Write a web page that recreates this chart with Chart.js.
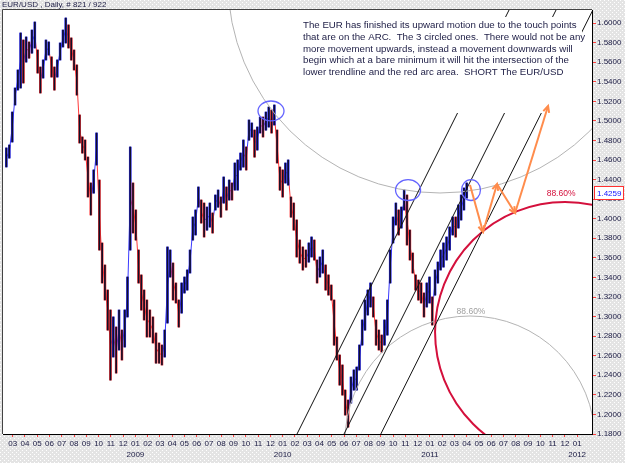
<!DOCTYPE html>
<html>
<head>
<meta charset="utf-8">
<script src="https://cdn.jsdelivr.net/npm/chart.js@4.4.0/dist/chart.umd.min.js"></script>
<style>
  html, body { margin: 0; padding: 0; background: #e8e8e8; }
  canvas { display: block; }
</style>
</head>
<body>
<canvas id="eurChart" width="625" height="463"></canvas>
<script>
// weekly EUR/USD ranges, first week starting 2008-02-15
const firstWeek = "2008-02-15";
const weekHigh = [
  1.4723, 1.4753, 1.5090, 1.5336, 1.5520, 1.5898, 1.5826, 1.5857, 1.5806, 1.5928,
  1.6010, 1.5724, 1.5550, 1.5622, 1.5826, 1.5806, 1.5653, 1.5550, 1.5622, 1.5796,
  1.5928, 1.6051, 1.5980, 1.5847, 1.5724, 1.5571, 1.5060, 1.4835, 1.4804, 1.4630,
  1.4365, 1.4498, 1.4876, 1.4395, 1.3752, 1.3527, 1.3271, 1.3067, 1.2996, 1.2893,
  1.3067, 1.2862, 1.3067, 1.3404, 1.4733, 1.4365, 1.4089, 1.3680, 1.3425, 1.3271,
  1.3169, 1.3067, 1.2996, 1.2832, 1.2730, 1.2709, 1.2862, 1.3711, 1.3680, 1.3547,
  1.3343, 1.3169, 1.3343, 1.3404, 1.3476, 1.3680, 1.4017, 1.4089, 1.4324, 1.4191,
  1.4160, 1.4119, 1.4160, 1.4058, 1.4242, 1.4293, 1.4222, 1.4426, 1.4324, 1.4395,
  1.4365, 1.4569, 1.4600, 1.4671, 1.4804, 1.4733, 1.5009, 1.4978, 1.4906, 1.4937,
  1.5039, 1.5039, 1.5090, 1.5141, 1.5111, 1.5162, 1.4906, 1.4528, 1.4498, 1.4569,
  1.4600, 1.4222, 1.4160, 1.3987, 1.3782, 1.3711, 1.3680, 1.3752, 1.3813, 1.3782,
  1.3578, 1.3609, 1.3680, 1.3527, 1.3425, 1.3322, 1.3169, 1.2791, 1.2607, 1.2505,
  1.2249, 1.2147, 1.2382, 1.2454, 1.2484, 1.2709, 1.2965, 1.3169, 1.3271, 1.3343,
  1.3200, 1.2965, 1.2862, 1.2811, 1.2965, 1.3169, 1.3680, 1.4017, 1.4160, 1.4089,
  1.4119, 1.4293, 1.4242, 1.3884, 1.3649, 1.3425, 1.3373, 1.3343, 1.3241, 1.3343,
  1.3404, 1.3200, 1.3476, 1.3557, 1.3680, 1.3752, 1.3813, 1.3915, 1.4017, 1.4017,
  1.4140, 1.4242, 1.4314, 1.4365
];
const weekLow = [
  1.4529, 1.4620, 1.4784, 1.5162, 1.5315, 1.5336, 1.5387, 1.5601, 1.5642, 1.5693,
  1.5745, 1.5489, 1.5285, 1.5438, 1.5622, 1.5673, 1.5448, 1.5315, 1.5448, 1.5622,
  1.5755, 1.5796, 1.5745, 1.5622, 1.5520, 1.5264, 1.4774, 1.4671, 1.4600, 1.4222,
  1.4038, 1.4262, 1.4549, 1.3680, 1.3343, 1.3169, 1.2862, 1.2351, 1.2587, 1.2423,
  1.2658, 1.2556, 1.2689, 1.2996, 1.3680, 1.3854, 1.3782, 1.3343, 1.3067, 1.2965,
  1.2791, 1.2791, 1.2730, 1.2525, 1.2525, 1.2505, 1.2587, 1.2934, 1.3404, 1.3169,
  1.3139, 1.2893, 1.3036, 1.3241, 1.3271, 1.3445, 1.3782, 1.3834, 1.4119, 1.3956,
  1.3813, 1.3884, 1.3915, 1.3854, 1.4089, 1.4119, 1.4017, 1.4160, 1.4089, 1.4191,
  1.4191, 1.4293, 1.4293, 1.4498, 1.4528, 1.4498, 1.4804, 1.4835, 1.4630, 1.4702,
  1.4876, 1.4835, 1.4906, 1.4937, 1.4876, 1.4958, 1.4569, 1.4293, 1.4222, 1.4365,
  1.4344, 1.4017, 1.3884, 1.3609, 1.3547, 1.3476, 1.3506, 1.3557, 1.3609, 1.3578,
  1.3343, 1.3404, 1.3445, 1.3271, 1.3220, 1.3169, 1.2709, 1.2556, 1.2300, 1.2198,
  1.1994, 1.1871, 1.2116, 1.2249, 1.2249, 1.2454, 1.2709, 1.2862, 1.3016, 1.3098,
  1.2996, 1.2709, 1.2658, 1.2638, 1.2709, 1.2811, 1.3343, 1.3752, 1.3936, 1.3834,
  1.3905, 1.4089, 1.3731, 1.3578, 1.3445, 1.3271, 1.3169, 1.3139, 1.2996, 1.3098,
  1.3139, 1.2914, 1.3220, 1.3343, 1.3476, 1.3506, 1.3578, 1.3680, 1.3834, 1.3813,
  1.3905, 1.3987, 1.4089, 1.4211
];
const lastPrice = 1.4259;

const priceTicks = [1.18, 1.20, 1.22, 1.24, 1.26, 1.28, 1.30, 1.32, 1.34, 1.36, 1.38,
  1.40, 1.42, 1.44, 1.46, 1.48, 1.50, 1.52, 1.54, 1.56, 1.58, 1.60];
// month ticks from 2008-03 to 2012-01
const monthTicks = ["03","04","05","06","07","08","09","10","11","12",
  "01","02","03","04","05","06","07","08","09","10","11","12",
  "01","02","03","04","05","06","07","08","09","10","11","12",
  "01","02","03","04","05","06","07","08","09","10","11","12",
  "01"];
const yearTicks = ["2009", "2010", "2011", "2012"];

// drawings, in (months since 2008-01, price)
const fibArcs = [
  { m: 36.82, p: 1.6429, rm: 17.28, rp: 0.2166, color: "#b4b4b4", width: 1 },
  { m: 39.27, p: 1.1728, rm: 10.19, rp: 0.1278, color: "#b4b4b4", width: 1 },
  { m: 47.01, p: 1.2842, rm: 10.59, rp: 0.1329, color: "#d4103c", width: 2 }
];
const arcLabels = [
  { m: 46.69, p: 1.4252, text: "88.60%", color: "#d4103c" },
  { m: 39.35, p: 1.3046, text: "88.60%", color: "#a0a0a0" }
];
const trendLines = [
  [25.17, 1.18, 42.45, 1.6133],
  [29.0, 1.18, 46.28, 1.6133],
  [32.0, 1.18, 49.28, 1.6133]
];
const touchCircles = [
  { m: 23.05, p: 1.5101, rm: 1.06, rp: 0.0102 },
  { m: 34.22, p: 1.4293, rm: 1.02, rp: 0.0107 },
  { m: 39.35, p: 1.4293, rm: 0.77, rp: 0.0107 }
];
const forecastPath = [[39.27, 1.4344], [40.33, 1.3864], [41.47, 1.4355], [42.94, 1.4058], [45.63, 1.5152]];

const noteLines = [
  "The EUR has finished its upward motion due to the touch points",
  "that are on the ARC.  The 3 circled ones.  There would not be any",
  "more movement upwards, instead a movement downwards will",
  "begin which at a bare minimum it will hit the intersection of the",
  "lower trendline and the red arc area.  SHORT The EUR/USD"
];

function monthIndex(d) {
  const y = d.getUTCFullYear(), mo = d.getUTCMonth();
  const dim = new Date(Date.UTC(y, mo + 1, 0)).getUTCDate();
  return (y - 2008) * 12 + mo + (d.getUTCDate() - 1) / dim;
}

const start = new Date(firstWeek + "T00:00:00Z");
const bars = weekHigh.map((h, i) => {
  const d = new Date(start.getTime() + i * 7 * 86400000);
  return { x: monthIndex(d), y: [weekLow[i], h] };
});
const mids = bars.map((b) => ({ x: b.x, y: (b.y[0] + b.y[1]) / 2 }));
const barColors = mids.map((b, i) => (i === 0 || b.y >= mids[i - 1].y ? "#2a2aff" : "#ff2a2a"));

const fontName = "'Liberation Sans', Arial, sans-serif";
const labelColor = "#202048";

function dotPattern(ctx) {
  const c = document.createElement("canvas");
  c.width = 4; c.height = 4;
  const g = c.getContext("2d");
  g.fillStyle = "#e4e4e4";
  g.fillRect(0, 0, 4, 4);
  g.fillStyle = "#ffffff";
  g.fillRect(0, 0, 1, 1);
  g.fillRect(2, 2, 1, 1);
  return ctx.createPattern(c, "repeat");
}

function arrowHead(ctx, x0, y0, x1, y1) {
  const a = Math.atan2(y1 - y0, x1 - x0);
  const len = 7, spread = 0.45;
  ctx.beginPath();
  ctx.moveTo(x1 - len * Math.cos(a - spread), y1 - len * Math.sin(a - spread));
  ctx.lineTo(x1, y1);
  ctx.lineTo(x1 - len * Math.cos(a + spread), y1 - len * Math.sin(a + spread));
  ctx.stroke();
}

const overlay = {
  id: "overlay",
  beforeDraw(chart) {
    const { ctx, chartArea: a } = chart;
    ctx.save();
    ctx.fillStyle = dotPattern(ctx);
    ctx.fillRect(0, 0, chart.width, chart.height);
    ctx.fillStyle = "#ffffff";
    ctx.fillRect(a.left, a.top, a.right - a.left, a.bottom - a.top);
    ctx.strokeStyle = "#444";
    ctx.lineWidth = 1;
    ctx.beginPath();
    ctx.moveTo(a.left - 0.5, a.bottom);
    ctx.lineTo(a.left - 0.5, a.top - 0.5);
    ctx.lineTo(a.right, a.top - 0.5);
    ctx.stroke();
    ctx.restore();
  },
  afterDatasetsDraw(chart) {
    const { ctx, chartArea: a } = chart;
    const xs = chart.scales.x, ys = chart.scales.y;
    const px = (m) => xs.getPixelForValue(m);
    const py = (p) => ys.getPixelForValue(p);

    ctx.save();
    ctx.beginPath();
    ctx.rect(a.left, a.top, a.right - a.left, a.bottom - a.top);
    ctx.clip();

    // fibonacci arcs
    fibArcs.forEach((c) => {
      ctx.strokeStyle = c.color;
      ctx.lineWidth = c.width;
      ctx.beginPath();
      ctx.ellipse(px(c.m), py(c.p), Math.abs(px(c.m + c.rm) - px(c.m)),
        Math.abs(py(c.p + c.rp) - py(c.p)), 0, 0, Math.PI * 2);
      ctx.stroke();
    });

    // channel lines
    ctx.strokeStyle = "#111";
    ctx.lineWidth = 1;
    trendLines.forEach((l) => {
      ctx.beginPath();
      ctx.moveTo(px(l[0]), py(l[1]));
      ctx.lineTo(px(l[2]), py(l[3]));
      ctx.stroke();
    });

    // note box
    ctx.fillStyle = "#ffffff";
    ctx.fillRect(300, 17, 282, 96);
    ctx.fillStyle = "#1c1c44";
    ctx.font = "9.7px " + fontName;
    ctx.textBaseline = "middle";
    ctx.textAlign = "left";
    noteLines.forEach((t, i) => ctx.fillText(t, 303, 25.5 + i * 11.7));

    // arc labels
    ctx.font = "8.5px " + fontName;
    ctx.textAlign = "center";
    arcLabels.forEach((l) => {
      ctx.fillStyle = l.color;
      ctx.fillText(l.text, px(l.m), py(l.p));
    });

    // circled touch points
    ctx.strokeStyle = "#6464ff";
    ctx.lineWidth = 1.3;
    touchCircles.forEach((c) => {
      ctx.beginPath();
      ctx.ellipse(px(c.m), py(c.p), Math.abs(px(c.m + c.rm) - px(c.m)),
        Math.abs(py(c.p + c.rp) - py(c.p)), 0, 0, Math.PI * 2);
      ctx.stroke();
    });

    // forecast arrows
    ctx.strokeStyle = "#ff8c4c";
    ctx.lineWidth = 2;
    for (let i = 1; i < forecastPath.length; i++) {
      const x0 = px(forecastPath[i - 1][0]), y0 = py(forecastPath[i - 1][1]);
      const x1 = px(forecastPath[i][0]), y1 = py(forecastPath[i][1]);
      ctx.beginPath();
      ctx.moveTo(x0, y0);
      ctx.lineTo(x1, y1);
      ctx.stroke();
      arrowHead(ctx, x0, y0, x1, y1);
    }
    ctx.restore();
  },
  afterDraw(chart) {
    const { ctx } = chart;
    const ys = chart.scales.y;
    ctx.save();
    ctx.fillStyle = "#1c1c44";
    ctx.font = "8px " + fontName;
    ctx.textBaseline = "middle";
    ctx.textAlign = "left";
    ctx.fillText("EUR/USD , Daily, # 821 / 922", 2, 5);

    // last price tag
    const y = Math.round(ys.getPixelForValue(lastPrice));
    ctx.fillStyle = "#ffffff";
    ctx.fillRect(594.5, y - 6.5, 29, 13);
    ctx.strokeStyle = "#ff3030";
    ctx.lineWidth = 1;
    ctx.strokeRect(594.5, y - 6.5, 29, 13);
    ctx.fillStyle = "#1010ff";
    ctx.font = "8px " + fontName;
    ctx.fillText(lastPrice.toFixed(4), 597, y + 0.5);
    ctx.restore();
  }
};

new Chart(document.getElementById("eurChart"), {
  type: "bar",
  data: {
    datasets: [
      {
        type: "line",
        data: mids,
        borderWidth: 1,
        pointRadius: 0,
        segment: {
          borderColor: (c) => (c.p1.parsed.y >= c.p0.parsed.y ? "#3a3aff" : "#ff3a3a"),
        },
        order: 3,
      },
      {
        data: bars,
        backgroundColor: barColors,
        barThickness: 2,
        grouped: false,
        order: 2,
      },
      {
        data: bars,
        backgroundColor: "#101028",
        barThickness: 1,
        grouped: false,
        order: 1,
      },
    ],
  },
  options: {
    responsive: false,
    animation: false,
    devicePixelRatio: 1,
    layout: { padding: { left: 3, top: 10, right: 0, bottom: 0 } },
    plugins: {
      legend: { display: false },
      tooltip: { enabled: false },
    },
    scales: {
      x: {
        type: "linear",
        min: 1.21,
        max: 49.21,
        offset: false,
        afterBuildTicks: (s) => {
          s.ticks = monthTicks.map((t, i) => ({ value: i + 2 }));
        },
        afterFit: (s) => {
          s.height = 29;
        },
        ticks: {
          autoSkip: false,
          maxRotation: 0,
          padding: 1,
          color: labelColor,
          font: { family: fontName, size: 8, lineHeight: 1.4 },
          callback: function (value, index) {
            const t = monthTicks[index];
            if (t === "01") return [t, yearTicks[Math.floor(value / 12) - 1]];
            return t;
          },
        },
        grid: { drawOnChartArea: false, offset: false, tickLength: 3, tickColor: "#ff4040" },
        border: { color: "#000" },
      },
      y: {
        position: "right",
        min: 1.18,
        max: 1.6133,
        beginAtZero: false,
        afterBuildTicks: (s) => {
          s.ticks = priceTicks.map((v) => ({ value: v }));
        },
        afterFit: (s) => {
          s.width = 33;
        },
        ticks: {
          padding: 1,
          color: labelColor,
          font: { family: fontName, size: 8 },
          callback: (v) => Number(v).toFixed(4),
        },
        grid: { drawOnChartArea: false, tickLength: 4, tickColor: "#ff4040" },
        border: { color: "#000" },
      },
    },
  },
  plugins: [overlay],
});
</script>
</body>
</html>
